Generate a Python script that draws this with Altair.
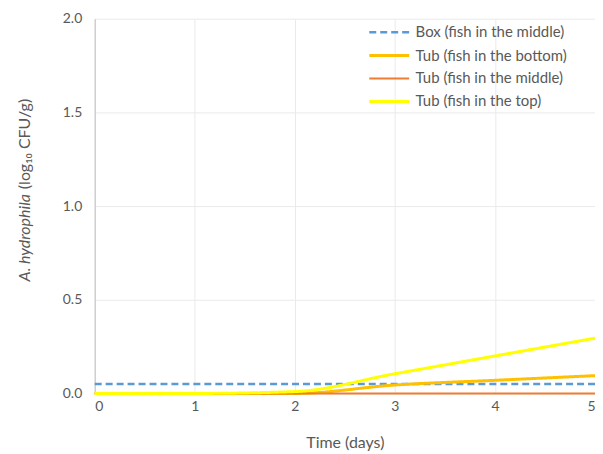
import altair as alt
import pandas as pd

days = [0, 1, 2, 3, 4, 5]
series_names = [
    "Box  (fish in the middle)",
    "Tub (fish in the bottom)",
    "Tub (fish in the middle)",
    "Tub (fish in the top)",
]
box_middle = [0.05, 0.05, 0.05, 0.05, 0.05, 0.05]
tub_bottom = [0.0, 0.0, 0.0, 0.045, 0.07, 0.095]
tub_middle = [0.0, 0.0, 0.0, 0.0, 0.0, 0.0]
tub_top = [0.0, 0.0, 0.01, 0.105, 0.2, 0.295]

colors = ["#5B9BD5", "#FFC000", "#ED7D31", "#FFFF00"]
dashes = [[7, 4], [1, 0], [1, 0], [1, 0]]
widths = [2.5, 3, 2, 3]

rows = []
for name, vals in zip(series_names, [box_middle, tub_bottom, tub_middle, tub_top]):
    for d, v in zip(days, vals):
        rows.append({"day": d, "value": v, "series": name})
df = pd.DataFrame(rows)

FONT = "Lato"
GREY = "#595959"


def make_legend():
    return alt.Legend(title=None, orient="none", legendX=282, legendY=2,
                      symbolType="M-1.8,0H2.2", symbolSize=400,
                      labelFontSize=15, labelColor=GREY, labelFont=FONT,
                      rowPadding=3.5, labelOffset=17)


lines = alt.Chart(df).mark_line(interpolate="monotone").encode(
    x=alt.X("day:Q", scale=alt.Scale(domain=[0, 5], nice=False),
            axis=alt.Axis(title="Time (days)", values=[0, 1, 2, 3, 4, 5], format="d",
                          grid=True, gridColor="#EAEAEA", domain=False, ticks=False,
                          labelPadding=6, titlePadding=21)),
    y=alt.Y("value:Q", scale=alt.Scale(domain=[0, 2], nice=False),
            axis=alt.Axis(title=None, values=[0, 0.5, 1, 1.5, 2], format=".1f",
                          grid=True, gridColor="#EAEAEA", domainColor="#BFBFBF",
                          ticks=False, labelPadding=13)),
    color=alt.Color("series:N", sort=series_names,
                    scale=alt.Scale(domain=series_names, range=colors),
                    legend=make_legend()),
    strokeDash=alt.StrokeDash("series:N", sort=series_names,
                              scale=alt.Scale(domain=series_names, range=dashes),
                              legend=make_legend()),
    strokeWidth=alt.StrokeWidth("series:N", sort=series_names,
                                scale=alt.Scale(type="ordinal", domain=series_names, range=widths),
                                legend=make_legend()),
)

title_italic = alt.Chart(pd.DataFrame({"t": ["A. hydrophila"]})).mark_text(
    angle=270, align="right", baseline="middle", fontSize=16, fontStyle="italic",
    font=FONT, color=GREY
).encode(x=alt.value(-70), y=alt.value(176), text="t:N")

title_normal = alt.Chart(pd.DataFrame({"t": ["(log₁₀ CFU/g)"]})).mark_text(
    angle=270, align="left", baseline="middle", fontSize=16,
    font=FONT, color=GREY
).encode(x=alt.value(-70), y=alt.value(171), text="t:N")

chart = alt.layer(lines, title_italic, title_normal).properties(
    width=502, height=376,
    autosize=alt.AutoSizeParams(type="none"),
    padding={"left": 87, "top": 10, "right": 0, "bottom": 58},
).configure_view(stroke=None).configure_axis(
    labelFont=FONT, labelFontSize=14, labelColor=GREY,
    titleFont=FONT, titleFontSize=16, titleColor=GREY, titleFontWeight="normal",
)

chart.save("out.html", embed_options={"renderer": "svg", "actions": False})
